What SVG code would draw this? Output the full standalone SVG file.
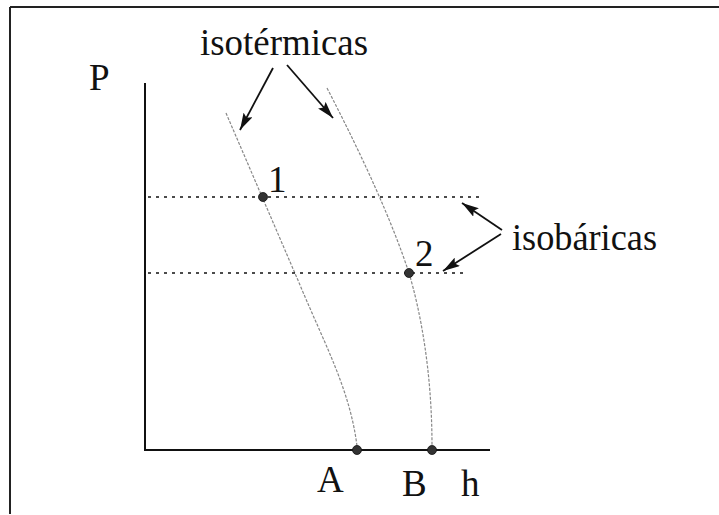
<svg xmlns="http://www.w3.org/2000/svg" width="719" height="515" viewBox="0 0 719 515">
  <style>
    svg text.t { font-family: "Liberation Serif", "Times New Roman", serif !important; font-size: 37px !important; fill: #111; }
    .frame { stroke: #222; stroke-width: 2; fill: none; }
    .axis { stroke: #111; stroke-width: 2; fill: none; }
    .iso { stroke: #888; stroke-width: 1.2; fill: none; stroke-dasharray: 3 1.5; }
    .bar { stroke: #111; stroke-width: 1.6; fill: none; stroke-dasharray: 3 5; }
    .arr { stroke: #111; stroke-width: 1.8; fill: none; marker-end: url(#ah); }
    .dot { fill: #333; stroke: #111; stroke-width: 0.8; }
  </style>
  <defs>
    <marker id="ah" markerUnits="userSpaceOnUse" markerWidth="18" markerHeight="10" refX="17" refY="5" orient="auto">
      <path d="M0,0 L17,5 L0,10 L3,5 z" fill="#111"/>
    </marker>
  </defs>
  <rect width="719" height="515" fill="#fff"/>
  <g id="frame">
    <path class="frame" d="M10,7 L719,7 M10,7 L10,514"/>
  </g>
  <g id="axes">
    <path class="axis" d="M145,83 L145,450 L490,450"/>
    <text class="t" x="89" y="90" style="font-family:'Liberation Serif',serif;font-size:37px">P</text>
    <text class="t" x="461" y="496" style="font-family:'Liberation Serif',serif;font-size:37px">h</text>
  </g>
  <g id="connectors">
    <path id="isoterma-A" class="iso" d="M226,113 L300,285 C325,345 350,390 357,446"/>
    <path id="isoterma-B" class="iso" d="M327,88 Q385,200 409,273 C420,310 432,370 432,446"/>
    <path id="isobara-1" class="bar" d="M148,197 L480,197"/>
    <path id="isobara-2" class="bar" d="M148,273 L468,273"/>
    <path class="arr" d="M273,68 L240,130"/>
    <path class="arr" d="M287,65 L333,118"/>
    <path class="arr" d="M502,230 L462,203"/>
    <path class="arr" d="M501,234 L443,271"/>
  </g>
  <g id="label-isotermicas">
    <text class="t" x="200" y="55" style="font-family:'Liberation Serif',serif;font-size:37px" textLength="168" lengthAdjust="spacingAndGlyphs">isotérmicas</text>
  </g>
  <g id="label-isobaricas">
    <text class="t" x="512" y="250" style="font-family:'Liberation Serif',serif;font-size:37px" textLength="145" lengthAdjust="spacingAndGlyphs">isobáricas</text>
  </g>
  <g id="point-1">
    <circle class="dot" cx="263" cy="197" r="4.5"/>
    <text class="t" x="268" y="192" style="font-family:'Liberation Serif',serif;font-size:37px">1</text>
  </g>
  <g id="point-2">
    <circle class="dot" cx="409" cy="273" r="4.5"/>
    <text class="t" x="415" y="266" style="font-family:'Liberation Serif',serif;font-size:37px">2</text>
  </g>
  <g id="point-A">
    <circle class="dot" cx="357" cy="450" r="4.5"/>
    <text class="t" x="317" y="492" style="font-family:'Liberation Serif',serif;font-size:37px">A</text>
  </g>
  <g id="point-B">
    <circle class="dot" cx="432" cy="450" r="4.5"/>
    <text class="t" x="402" y="496" style="font-family:'Liberation Serif',serif;font-size:37px">B</text>
  </g>
</svg>
